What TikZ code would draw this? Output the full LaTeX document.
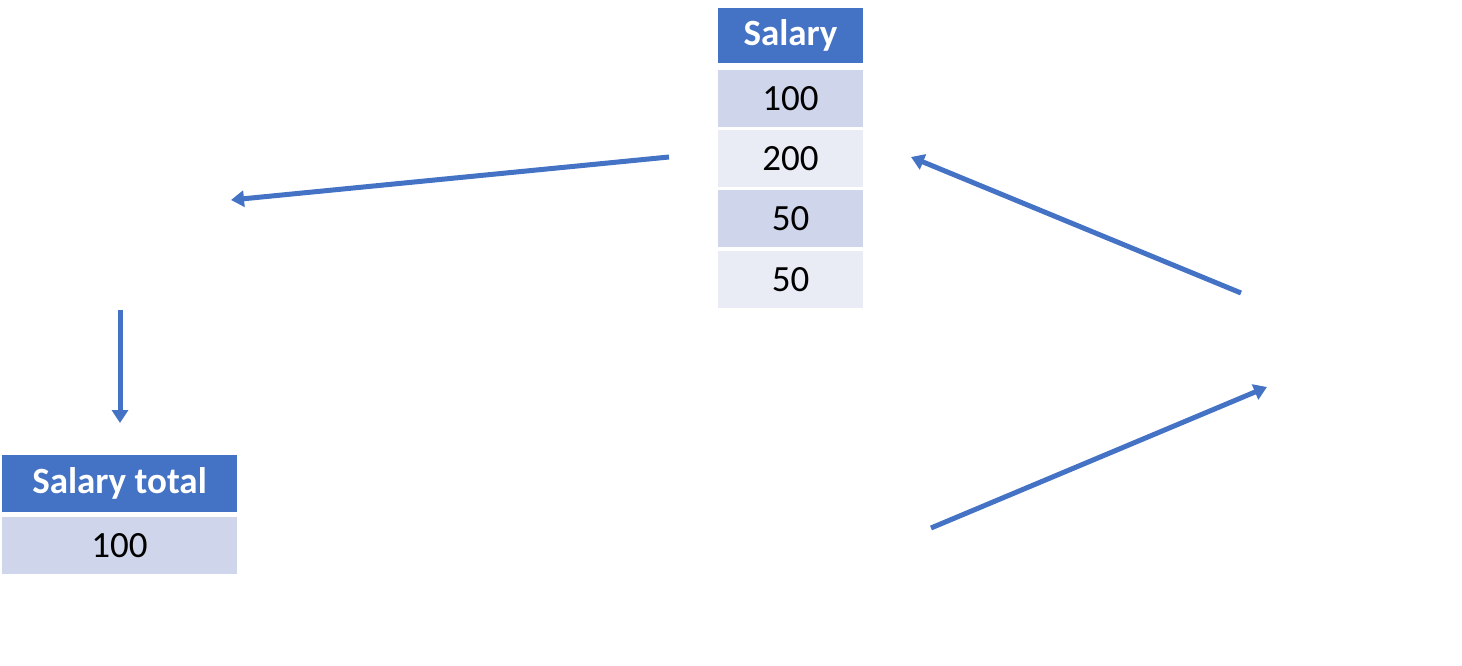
\documentclass[tikz,border=0pt]{standalone}
\usepackage{fontspec}
\setmainfont{Carlito}
\usetikzlibrary{arrows.meta}
\definecolor{hdr}{HTML}{4472C4}
\definecolor{rowA}{HTML}{CFD5EA}
\definecolor{rowB}{HTML}{E9EBF5}
\begin{document}
\begin{tikzpicture}[x=1pt,y=-1pt,
  cell/.style={inner sep=0pt,outer sep=0pt,anchor=north west,font=\fontsize{37}{42}\selectfont,text=black},
  hcell/.style={cell,fill=hdr,text=white,font=\fontsize{37}{42}\selectfont\bfseries},
  arr/.style={draw=hdr,line width=5pt,-{Triangle[length=13pt,width=16pt]}}]
\useasboundingbox (0,0) rectangle (1462,666);
% Salary table
\node[hcell,minimum width=145pt,minimum height=55pt] (sh) at (718,8) {Salary};
\node[cell,fill=rowA,minimum width=145pt,minimum height=57pt] (r1) at (718,70) {100};
\node[cell,fill=rowB,minimum width=145pt,minimum height=57pt] (r2) at (718,130) {200};
\node[cell,fill=rowA,minimum width=145pt,minimum height=57pt] (r3) at (718,190) {50};
\node[cell,fill=rowB,minimum width=145pt,minimum height=57pt] (r4) at (718,251) {50};
% Salary total table
\node[hcell,minimum width=235pt,minimum height=57pt] (th) at (2,455) {Salary total};
\node[cell,fill=rowA,minimum width=235pt,minimum height=57pt] (t1) at (2,517) {100};
% arrow endpoints
\coordinate (a1s) at (669,157);
\coordinate (a1e) at (231,200);
\coordinate (a2s) at (1241,293);
\coordinate (a2e) at (911,157);
\coordinate (a3s) at (931,528);
\coordinate (a3e) at (1267,387);
\coordinate (a4s) at (120,310);
\coordinate (a4e) at (120,423);
\draw[arr] (a1s) -- (a1e);
\draw[arr] (a2s) -- (a2e);
\draw[arr] (a3s) -- (a3e);
\draw[arr] (a4s) -- (a4e);
\end{tikzpicture}
\end{document}
